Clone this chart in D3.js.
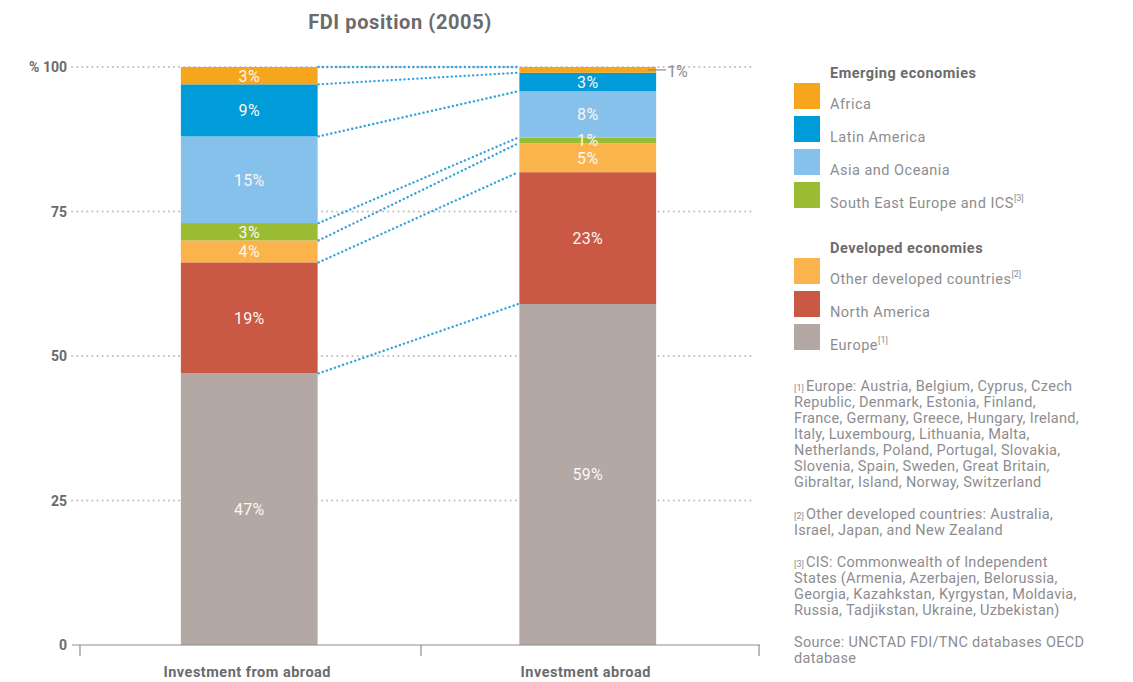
<!DOCTYPE html>
<html>
<head>
<meta charset="utf-8">
<script src="https://cdn.jsdelivr.net/npm/d3@7"></script>
<style>
  body { margin: 0; background: #fff; }
  svg { display: block; font-family: Roboto, 'Noto Sans', sans-serif; }
</style>
</head>
<body>
<svg id="chart" width="1133" height="682"></svg>
<script>
const categories = ['Investment from abroad', 'Investment abroad']
// stacked bottom to top
const regions = ['Europe', 'North America', 'Other developed countries', 'South East Europe and ICS', 'Asia and Oceania', 'Latin America', 'Africa']
const fromAbroad = [47, 19.2, 3.8, 3, 15, 9, 3]
const abroad = [59, 22.8, 5, 1, 8, 3.2, 1]
const yTicks = [0, 25, 50, 75, 100]

const colors = {
  'Africa': '#f7a51c',
  'Latin America': '#009bd9',
  'Asia and Oceania': '#85c1ea',
  'South East Europe and ICS': '#99bc32',
  'Other developed countries': '#fbb34c',
  'North America': '#c95844',
  'Europe': '#b3a8a4'
}

const legendGroups = [
  { title: 'Emerging economies', items: [['Africa', ''], ['Latin America', ''], ['Asia and Oceania', ''], ['South East Europe and ICS', '[3]']] },
  { title: 'Developed economies', items: [['Other developed countries', '[2]'], ['North America', ''], ['Europe', '[1]']] }
]

const notes = [
  ['[1]', 'Europe: Austria, Belgium, Cyprus, Czech'],
  ['', 'Republic, Denmark, Estonia, Finland,'],
  ['', 'France, Germany, Greece, Hungary, Ireland,'],
  ['', 'Italy, Luxembourg, Lithuania, Malta,'],
  ['', 'Netherlands, Poland, Portugal, Slovakia,'],
  ['', 'Slovenia, Spain, Sweden, Great Britain,'],
  ['', 'Gibraltar, Island, Norway, Switzerland'],
  null,
  ['[2]', 'Other developed countries: Australia,'],
  ['', 'Israel, Japan, and New Zealand'],
  null,
  ['[3]', 'CIS: Commonwealth of Independent'],
  ['', 'States (Armenia, Azerbajen, Belorussia,'],
  ['', 'Georgia, Kazahkstan, Kyrgystan, Moldavia,'],
  ['', 'Russia, Tadjikstan, Ukraine, Uzbekistan)'],
  null,
  ['', 'Source: UNCTAD FDI/TNC databases OECD'],
  ['', 'database']
]

const TEXT_DARK = '#6b6b6d'
const TEXT_LIGHT = '#8d8d8f'

const svg = d3.select('#chart')

const y = d3.scaleLinear().domain([0, 100]).range([645, 67])
const x = d3.scaleBand().domain(categories).range([80, 757]).paddingInner(0.596).paddingOuter(0.298)

const table = categories.map((c, i) => {
  const row = { category: c }
  const vals = i === 0 ? fromAbroad : abroad
  regions.forEach((r, j) => { row[r] = vals[j] })
  return row
})
const series = d3.stack().keys(regions)(table)

// title
svg.append('text')
  .attr('x', 400).attr('y', 29)
  .attr('text-anchor', 'middle')
  .attr('font-size', 20).attr('font-weight', 700)
  .attr('letter-spacing', 0.6)
  .attr('fill', TEXT_DARK)
  .text('FDI position (2005)')

// grid
svg.append('g').selectAll('line').data(yTicks.filter(d => d > 0)).enter().append('line')
  .attr('x1', 72).attr('x2', 755)
  .attr('y1', d => y(d)).attr('y2', d => y(d))
  .attr('stroke', '#c6bcb9').attr('stroke-width', 2)
  .attr('stroke-dasharray', '0.1 5').attr('stroke-linecap', 'round')

// y labels
svg.append('g').selectAll('text').data(yTicks).enter().append('text')
  .attr('x', 67).attr('y', d => y(d) + 5)
  .attr('text-anchor', 'end')
  .attr('font-size', 14).attr('font-weight', 700)
  .attr('fill', TEXT_DARK)
  .text(d => d === 100 ? '% 100' : d)

// bars
const layer = svg.append('g').selectAll('g').data(series).enter().append('g')
  .attr('fill', d => colors[d.key])
layer.selectAll('rect').data(d => d).enter().append('rect')
  .attr('x', d => x(d.data.category))
  .attr('width', x.bandwidth())
  .attr('y', d => y(d[1]))
  .attr('height', d => y(d[0]) - y(d[1]))

// connectors between the two stacks
const conn = series.map(s => [s[0][1], s[1][1]])
svg.append('g').selectAll('line').data(conn).enter().append('line')
  .attr('x1', x(categories[0]) + x.bandwidth() + 1)
  .attr('x2', x(categories[1]) - 1)
  .attr('y1', d => y(d[0])).attr('y2', d => y(d[1]))
  .attr('stroke', '#35a4dc').attr('stroke-width', 2.4)
  .attr('stroke-dasharray', '0.1 4.2').attr('stroke-linecap', 'round')

// value labels
const labelData = []
series.forEach(s => s.forEach(d => labelData.push({ key: s.key, d })))
svg.append('g').selectAll('text').data(labelData.filter(l => !(l.key === 'Africa' && l.d.data.category === categories[1])))
  .enter().append('text')
  .attr('x', l => x(l.d.data.category) + x.bandwidth() / 2)
  .attr('y', l => y((l.d[0] + l.d[1]) / 2) + 6)
  .attr('text-anchor', 'middle')
  .attr('font-size', 16).attr('letter-spacing', 0.3)
  .attr('fill', '#fdf6f2')
  .text(l => Math.round(l.d[1] - l.d[0]) + '%')

// small Africa slice on the right bar, labelled outside
const af = series.find(s => s.key === 'Africa')[1]
const afY = y((af[0] + af[1]) / 2)
svg.append('line')
  .attr('x1', x(categories[1]) + x.bandwidth() - 8).attr('x2', x(categories[1]) + x.bandwidth() + 10)
  .attr('y1', afY).attr('y2', afY)
  .attr('stroke', TEXT_LIGHT).attr('stroke-width', 1.2)
svg.append('text')
  .attr('x', x(categories[1]) + x.bandwidth() + 11).attr('y', afY + 7)
  .attr('font-size', 16).attr('fill', TEXT_LIGHT)
  .text(Math.round(af[1] - af[0]) + '%')

// x axis
const axis = svg.append('g')
axis.append('line')
  .attr('x1', 72).attr('x2', 760).attr('y1', 645).attr('y2', 645)
  .attr('stroke', '#8d8d8f').attr('stroke-width', 1.2)
axis.selectAll('.tick').data([80, 421, 759]).enter().append('line')
  .attr('x1', d => d).attr('x2', d => d).attr('y1', 645).attr('y2', 656)
  .attr('stroke', '#8d8d8f').attr('stroke-width', 1.2)
axis.selectAll('text').data(categories).enter().append('text')
  .attr('x', d => x(d) + x.bandwidth() / 2 - 2)
  .attr('y', 677)
  .attr('text-anchor', 'middle')
  .attr('font-size', 14.5).attr('font-weight', 700)
  .attr('letter-spacing', 0.5)
  .attr('fill', TEXT_DARK)
  .text(d => d)

// legend
const legend = svg.append('g')
let ly = 78
legendGroups.forEach(grp => {
  legend.append('text')
    .attr('x', 830).attr('y', ly)
    .attr('font-size', 14.5).attr('font-weight', 700)
    .attr('letter-spacing', 0.5)
    .attr('fill', TEXT_DARK)
    .text(grp.title)
  let sy = ly + 5
  grp.items.forEach(([name, sup]) => {
    legend.append('rect')
      .attr('x', 794).attr('y', sy).attr('width', 26).attr('height', 26)
      .attr('fill', colors[name])
    const t = legend.append('text')
      .attr('x', 830).attr('y', sy + 26)
      .attr('font-size', 14.5).attr('letter-spacing', 0.5)
      .attr('fill', TEXT_LIGHT)
    t.append('tspan').text(name)
    if (sup) t.append('tspan').attr('font-size', 9).attr('letter-spacing', 0).attr('dy', -7).text(sup)
    sy += 33
  })
  ly = 253
})

// footnotes
const fn = svg.append('g')
let ny = 391
notes.forEach(n => {
  if (n) {
    const t = fn.append('text')
      .attr('x', 794).attr('y', ny)
      .attr('font-size', 14.5).attr('letter-spacing', 0.3)
      .attr('fill', TEXT_LIGHT)
    if (n[0]) t.append('tspan').attr('font-size', 9).attr('letter-spacing', 0).text(n[0] + ' ')
    t.append('tspan').text(n[1])
  }
  ny += 16
})
</script>
</body>
</html>
